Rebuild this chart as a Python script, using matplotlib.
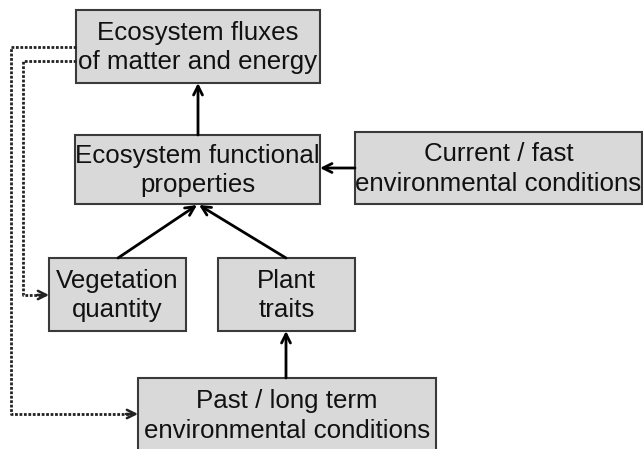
import matplotlib.pyplot as plt
from matplotlib.patches import Rectangle

# textos das caixas
labels = [
    "Ecosystem fluxes\nof matter and energy",
    "Ecosystem functional\nproperties",
    "Current / fast\nenvironmental conditions",
    "Vegetation\nquantity",
    "Plant\ntraits",
    "Past / long term\nenvironmental conditions",
]

# caixas em pixels: (x0, y0, x1, y1)
boxes = [
    (76, 10, 320, 83),
    (75, 135, 320, 204),
    (355, 132, 642, 204),
    (49, 258, 186, 331),
    (218, 258, 355, 331),
    (138, 378, 436, 452),
]

# setas solidas: (origem, ponta)
arrows = [
    ((198, 135), (198, 83)),
    ((355, 168), (320, 168)),
    ((118, 258), (197, 205)),
    ((286, 258), (199, 205)),
    ((286, 378), (286, 331)),
]

# setas pontilhadas (caminho)
dotted = [
    [(76, 47), (11, 47), (11, 414), (138, 414)],
    [(76, 61), (23, 61), (23, 295), (49, 295)],
]

plt.rcParams['font.family'] = ['Liberation Sans', 'DejaVu Sans']

fig = plt.figure(figsize=(6.43, 4.49), dpi=100)
ax = fig.add_axes([0, 0, 1, 1])
ax.set_xlim(0, 643)
ax.set_ylim(449, 0)
ax.axis('off')

for (x0, y0, x1, y1), txt in zip(boxes, labels):
    ax.add_patch(Rectangle((x0, y0), x1 - x0, y1 - y0, facecolor='#d9d9d9',
                           edgecolor='#3a3a3a', lw=1.5))
    ax.text((x0 + x1) / 2, (y0 + y1) / 2 + 1, txt, ha='center', va='center',
            fontsize=18.6, linespacing=1.28, color='#111111')

for a, b in arrows:
    ax.annotate('', xy=b, xytext=a,
                arrowprops=dict(arrowstyle='->', lw=2, color='black',
                                mutation_scale=16, shrinkA=0, shrinkB=0))

for path in dotted:
    xs = [p[0] for p in path]
    ys = [p[1] for p in path]
    ax.plot(xs[:-1] + [xs[-1] - 4], ys, linestyle=(0, (1, 0.6)), lw=2, color='#222222')
    ax.annotate('', xy=path[-1], xytext=(path[-1][0] - 12, path[-1][1]),
                arrowprops=dict(arrowstyle='->', lw=1.8, color='#222222',
                                mutation_scale=15, shrinkA=0, shrinkB=0))

fig.savefig('out.png', dpi=100)
